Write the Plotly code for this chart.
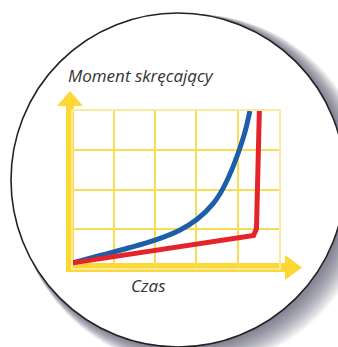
import plotly.graph_objects as go

# Canvas size in pixels
W, H = 338, 347

# Torque vs. time curves (x: time, 5 grid cells; y: torque, 4 grid cells)
blue_x = [0, 0.67, 1.35, 2.0, 2.61, 3.02, 3.41, 3.63, 3.86, 4.04, 4.19, 4.30]
blue_y = [0.13, 0.32, 0.51, 0.71, 0.97, 1.24, 1.64, 1.99, 2.5, 3.0, 3.5, 4.0]
red_x = [0, 4.39, 4.46, 4.53]
red_y = [0.13, 0.83, 1.0, 4.0]

y_title = "Moment skręcający"
x_title = "Czas"

X_MAX, Y_MAX = 5, 4

# Pixel placement of the chart inside the round badge
GX0, GX1 = 72.5, 278.75   # left/right of the grid
GY0, GY1 = 268.0, 111.0   # bottom/top of the grid

YELLOW = "#fdd733"


def px(p):
    return p / W


def py(p):
    return 1 - p / H


def circle(cx, cy, r, **kw):
    return dict(type="circle", xref="paper", yref="paper",
                x0=px(cx - r), x1=px(cx + r), y0=py(cy + r), y1=py(cy - r),
                layer="below", **kw)


def poly(points, **kw):
    path = "M " + " L ".join(f"{px(a):.5f},{py(b):.5f}" for a, b in points) + " Z"
    return dict(type="path", xref="paper", yref="paper", path=path,
                layer="below", **kw)


shapes = []

# soft drop shadow of the badge, spreading toward the lower right
CX, CY, R = 178, 180, 167
N = 26
for i in range(N):
    t = i / (N - 1)
    shapes.append(circle(CX + 16 * t, CY + 11 * t, R + 10 * t,
                         fillcolor="rgba(60,65,78,0.036)",
                         line=dict(width=0)))

# white badge with a dark outline
shapes.append(circle(CX, CY, R, fillcolor="white",
                     line=dict(color="#222222", width=1.6)))

# yellow axis arrows
shapes.append(poly([(66, 272), (66, 106), (57, 106), (70, 91),
                    (83, 106), (74, 106), (74, 272)],
                   fillcolor=YELLOW, line=dict(width=0)))
shapes.append(poly([(66, 263), (285, 263), (285, 255), (302, 267.5),
                    (285, 280), (285, 272), (66, 272)],
                   fillcolor=YELLOW, line=dict(width=0)))

fig = go.Figure()
fig.add_trace(go.Scatter(x=blue_x, y=blue_y, mode="lines",
                         line=dict(color="#1c5eaa", width=5, shape="spline",
                                   smoothing=1.0),
                         hoverinfo="skip"))
fig.add_trace(go.Scatter(x=red_x, y=red_y, mode="lines",
                         line=dict(color="#e4232b", width=5),
                         hoverinfo="skip"))

axis_common = dict(showticklabels=False, ticks="", zeroline=False,
                   showgrid=True, gridcolor="#f9dc52", gridwidth=1.5,
                   showline=True, mirror=True, linecolor="#fbe9a0",
                   linewidth=1.5, dtick=1, fixedrange=True)

label_font = dict(family="Open Sans", size=17, color="#333333",
                  style="italic")

fig.update_layout(
    width=W, height=H,
    margin=dict(l=0, r=0, t=0, b=0),
    paper_bgcolor="white",
    plot_bgcolor="rgba(0,0,0,0)",
    showlegend=False,
    xaxis=dict(domain=[px(GX0), px(GX1)], range=[0, X_MAX], **axis_common),
    yaxis=dict(domain=[py(GY0), py(GY1)], range=[0, Y_MAX], **axis_common),
    shapes=shapes,
    annotations=[
        dict(text=y_title, xref="paper", yref="paper", x=px(66), y=py(75.5),
             xanchor="left", yanchor="middle", showarrow=False,
             font=label_font),
        dict(text=x_title, xref="paper", yref="paper", x=px(148), y=py(285.5),
             xanchor="center", yanchor="middle", showarrow=False,
             font=label_font),
    ],
)

fig.write_html("out.html", config={"displayModeBar": False})
